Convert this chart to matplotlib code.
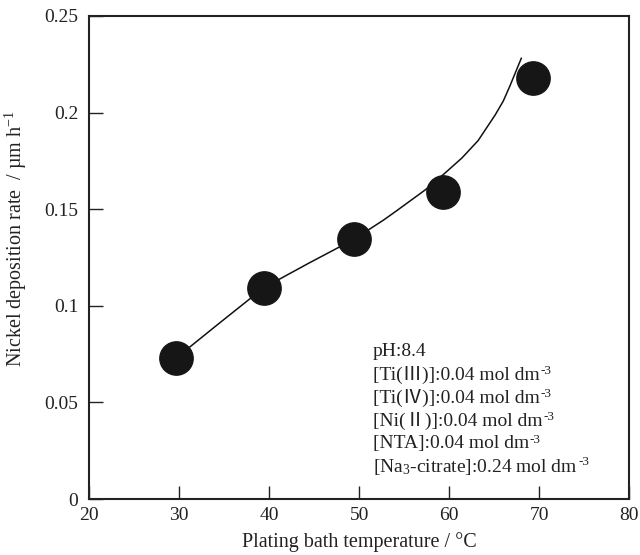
import matplotlib
matplotlib.use("Agg")
import matplotlib.pyplot as plt

plt.rcParams['font.family'] = ['Liberation Serif', 'Noto Sans CJK JP', 'DejaVu Serif']
plt.rcParams['mathtext.fontset'] = 'custom'
plt.rcParams['mathtext.rm'] = 'Liberation Serif'
plt.rcParams['mathtext.it'] = 'Liberation Serif:italic'
plt.rcParams['mathtext.bf'] = 'Liberation Serif:bold'

# Measured data points
temperature = [29.6, 39.4, 49.4, 59.3, 69.3]
rate = [0.0728, 0.1094, 0.1344, 0.1590, 0.2180]

# Fitted curve
curve_x = [29.6, 34.5, 39.4, 44.4, 49.4, 52.7, 54.0, 57.3, 59.5, 61.4, 63.2, 65.1, 66.0, 66.7, 68.0]
curve_y = [0.0728, 0.0912, 0.1094, 0.1221, 0.1344, 0.1444, 0.1487, 0.1599, 0.1686, 0.1765, 0.1855, 0.1988, 0.2060, 0.2134, 0.2281]

# Condition lines: (main text, superscript)
conditions = [
    ('pH:8.4', ''),
    ('[Ti(Ⅲ)]:0.04 mol dm', '-3'),
    ('[Ti(Ⅳ)]:0.04 mol dm', '-3'),
    ('[Ni(Ⅱ)]:0.04 mol dm', '-3'),
    ('[NTA]:0.04 mol dm', '-3'),
    ('[Na$_{\\mathregular{3}}$-citrate]:0.24 mol dm', '-3'),
]

fig = plt.figure(figsize=(6.4, 5.55), dpi=100)
ax = fig.add_axes([89.3/640, 1-499/555, (629.3-89.3)/640, (499-16)/555])

ax.plot(curve_x, curve_y, color='#111111', lw=1.1, zorder=2)
ax.plot(temperature, rate, 'o', color='#161616', markersize=24, zorder=3)

ax.set_xlim(20, 80)
ax.set_ylim(0, 0.25)
ax.set_xticks([20, 30, 40, 50, 60, 70, 80])
ax.set_xticklabels(['20', '30', '40', '50', '60', '70', '80'])
ax.set_yticks([0, 0.05, 0.1, 0.15, 0.2, 0.25])
ax.set_yticklabels(['0', '0.05', '0.1', '0.15', '0.2', '0.25'])
ax.tick_params(axis='both', direction='in', labelsize=14, width=1, color='#222222',
               labelcolor='#222222')
ax.tick_params(axis='y', length=10, pad=8)
ax.tick_params(axis='x', length=9.5, pad=6)
for s in ax.spines.values():
    s.set_linewidth(1.5)
    s.set_color('#222222')

ax.set_xlabel('Plating bath temperature / °C', fontsize=14.5, color='#222222')
ax.set_ylabel('Nickel deposition rate  / µm h$^{\\mathregular{-1}}$', fontsize=14.5, color='#222222')
ax.xaxis.set_label_coords(0.5, -0.068)
ax.yaxis.set_label_coords(-0.112, 0.54)

for i, (main, sup) in enumerate(conditions):
    t = ax.text(51.5, 0.0761 - i * 0.0119, main, fontsize=14, va='center', ha='left',
                color='#222222')
    if sup:
        ax.annotate(sup, xy=(1, 1), xycoords=t, xytext=(0.5, 1), textcoords='offset points',
                    fontsize=9.5, va='top', ha='left', color='#222222')

fig.savefig('out.png', dpi=100)
